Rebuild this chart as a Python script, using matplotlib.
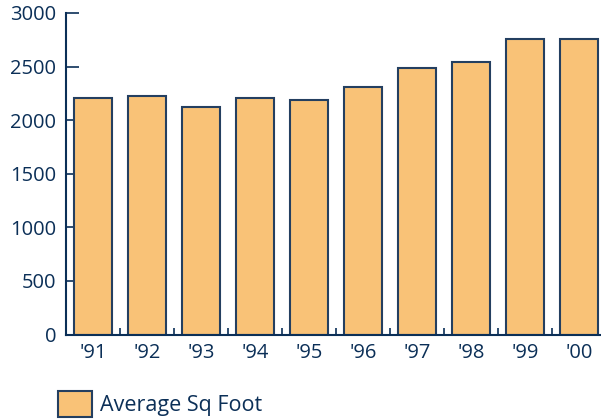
import matplotlib
matplotlib.use("Agg")
import matplotlib.pyplot as plt
from matplotlib.patches import Patch

years = ["'91", "'92", "'93", "'94", "'95", "'96", "'97", "'98", "'99", "'00"]
avg_sq_foot = [2205, 2227, 2124, 2211, 2190, 2314, 2490, 2544, 2758, 2755]
y_ticks = [0, 500, 1000, 1500, 2000, 2500, 3000]

navy = "#0b2f57"
edge = "#243f60"
fill = "#f9c277"

plt.rcParams["font.family"] = ["Open Sans", "DejaVu Sans"]

W, H = 601, 419
fig = plt.figure(figsize=(W / 100, H / 100), dpi=100)
left, bottom, top = 66 / W, (H - 334.5) / H, (H - 13) / H
right = 606 / W
ax = fig.add_axes([left, bottom, right - left, top - bottom])

x = list(range(len(years)))
ax.bar(x, avg_sq_foot, width=0.72, color=fill, edgecolor=edge, linewidth=1.5, zorder=2)

ax.set_xlim(-0.5, len(years) - 0.5)
ax.set_ylim(0, 3000)
ax.set_yticks(y_ticks)
ax.set_xticks(x)
ax.set_xticklabels(years)
ax.set_xticks([i + 0.5 for i in x[:-1]], minor=True)

for s in ("top", "right"):
    ax.spines[s].set_visible(False)
for s in ("left", "bottom"):
    ax.spines[s].set_color(navy)
    ax.spines[s].set_linewidth(1.5)

ax.tick_params(axis="y", direction="in", length=9.5, width=1.2, color=navy,
               labelcolor=navy, labelsize=14.5, pad=7)
ax.tick_params(axis="x", which="major", length=0, labelcolor=navy, labelsize=14.5, pad=6)
ax.tick_params(axis="x", which="minor", direction="in", length=5, width=1.2, color=navy)

handle = Patch(facecolor=fill, edgecolor=edge, linewidth=1.5, label="Average Sq Foot")
leg = fig.legend(handles=[handle], loc="lower left", bbox_to_anchor=(56 / W, 0 / H),
                 frameon=False, fontsize=15.5, handlelength=1.55, handleheight=1.5,
                 handletextpad=0.4, borderpad=0.1, borderaxespad=0)
for t in leg.get_texts():
    t.set_color(navy)

fig.savefig("out.png", dpi=100)
